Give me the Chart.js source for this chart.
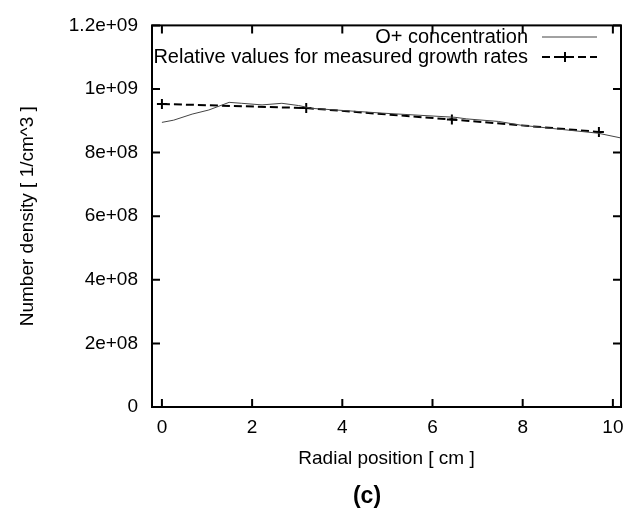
<!DOCTYPE html>
<html>
<head>
<meta charset="utf-8">
<script src="https://cdn.jsdelivr.net/npm/chart.js@4/dist/chart.umd.min.js"></script>
<style>
html, body { margin: 0; padding: 0; background: #fff; }
</style>
</head>
<body>
<canvas id="chart" width="640" height="513"></canvas>
<script>
'use strict'
// O+ concentration profile (thin solid line)
const concX = [0, 0.26, 0.67, 1.04, 1.49, 1.77, 2.22, 2.66, 3.03, 3.33, 4.9, 6.5, 6.76, 7.46, 7.97, 9.67, 10.18];
const concY = [8.95e8, 9.02e8, 9.21e8, 9.34e8, 9.58e8, 9.55e8, 9.50e8, 9.55e8, 9.48e8, 9.39e8, 9.24e8, 9.11e8, 9.06e8, 8.98e8, 8.86e8, 8.61e8, 8.46e8];
// relative values for measured growth rates (dashed + crosses)
const growthX = [0, 3.2, 6.43, 9.69];
const growthY = [9.53e8, 9.40e8, 9.04e8, 8.65e8];

const xTicks = [0, 2, 4, 6, 8, 10];
const yTicks = [0, 2e8, 4e8, 6e8, 8e8, 1e9, 1.2e9];
const yTickLabels = ['0', '2e+08', '4e+08', '6e+08', '8e+08', '1e+09', '1.2e+09'];

const FONT = '"Liberation Sans", Arial, sans-serif';
Chart.defaults.font.family = FONT;
Chart.defaults.color = '#000';

// gnuplot style frame: full box, inward ticks on all sides, key in top right, caption
const frame = {
    id: 'frame',
    afterDraw(chart) {
        const ctx = chart.ctx;
        const a = chart.chartArea;
        const x = chart.scales.x, y = chart.scales.y;
        ctx.save();
        ctx.strokeStyle = '#000';
        ctx.lineWidth = 2;
        ctx.setLineDash([]);
        ctx.strokeRect(a.left, a.top, a.right - a.left, a.bottom - a.top);
        ctx.beginPath();
        x.ticks.forEach(t => {
            const px = x.getPixelForValue(t.value);
            ctx.moveTo(px, a.bottom); ctx.lineTo(px, a.bottom - 8);
            ctx.moveTo(px, a.top); ctx.lineTo(px, a.top + 8);
        });
        y.ticks.forEach(t => {
            const py = y.getPixelForValue(t.value);
            ctx.moveTo(a.left, py); ctx.lineTo(a.left + 8, py);
            ctx.moveTo(a.right, py); ctx.lineTo(a.right - 8, py);
        });
        ctx.stroke();

        // key
        ctx.font = '20px ' + FONT;
        ctx.fillStyle = '#000';
        ctx.textAlign = 'right';
        ctx.textBaseline = 'middle';
        chart.data.datasets.forEach((ds, i) => {
            const ly = 37 + i * 20;
            ctx.fillText(ds.label, 528, ly);
            ctx.strokeStyle = ds.borderColor;
            ctx.lineWidth = ds.borderWidth;
            ctx.setLineDash(ds.borderDash || []);
            ctx.beginPath();
            ctx.moveTo(542, ly); ctx.lineTo(597, ly);
            ctx.stroke();
            ctx.setLineDash([]);
            if (ds.pointRadius > 0) {
                ctx.lineWidth = ds.pointBorderWidth;
                ctx.beginPath();
                ctx.moveTo(565 - ds.pointRadius, ly); ctx.lineTo(565 + ds.pointRadius, ly);
                ctx.moveTo(565, ly - ds.pointRadius); ctx.lineTo(565, ly + ds.pointRadius);
                ctx.stroke();
            }
        });

        // panel caption
        ctx.font = 'bold 23px ' + FONT;
        ctx.textAlign = 'center';
        ctx.fillText('(c)', 367, 497);
        ctx.restore();
    }
};

new Chart(document.getElementById('chart'), {
    type: 'scatter',
    data: {
        datasets: [{
            label: 'O+ concentration',
            data: concX.map((v, i) => ({ x: v, y: concY[i] })),
            showLine: true,
            borderColor: '#444',
            borderWidth: 1,
            pointRadius: 0,
            tension: 0
        }, {
            label: 'Relative values for measured growth rates',
            data: growthX.map((v, i) => ({ x: v, y: growthY[i] })),
            showLine: true,
            borderColor: '#000',
            borderWidth: 2,
            borderDash: [8, 4],
            pointStyle: 'cross',
            pointRadius: 5,
            pointBorderWidth: 2,
            pointBorderColor: '#000',
            tension: 0
        }]
    },
    options: {
        responsive: false,
        animation: false,
        layout: { padding: { left: 0, right: 19, top: 17, bottom: 40 } },
        plugins: {
            legend: { display: false },
            tooltip: { enabled: false }
        },
        scales: {
            x: {
                type: 'linear',
                min: -0.22,
                max: 10.18,
                afterBuildTicks: s => { s.ticks = xTicks.map(v => ({ value: v })) },
                afterFit: s => { s.height = 66 },
                grid: { display: false, drawTicks: false },
                border: { display: false },
                ticks: { padding: 9, font: { size: 19 }, maxRotation: 0, callback: v => String(v) },
                title: { display: true, text: 'Radial position [ cm ]', font: { size: 19 }, padding: { top: 0, bottom: 3 } }
            },
            y: {
                min: 0,
                max: 1.2e9,
                afterBuildTicks: s => { s.ticks = yTicks.map(v => ({ value: v })) },
                afterFit: s => { s.width = 152 },
                grid: { display: false, drawTicks: false },
                border: { display: false },
                ticks: { padding: 14, font: { size: 19 }, callback: (v, i) => yTickLabels[i] },
                title: { display: true, text: 'Number density [ 1/cm^3 ]', font: { size: 19 }, padding: { top: 16, bottom: 0 } }
            }
        }
    },
    plugins: [frame]
});
</script>
</body>
</html>
